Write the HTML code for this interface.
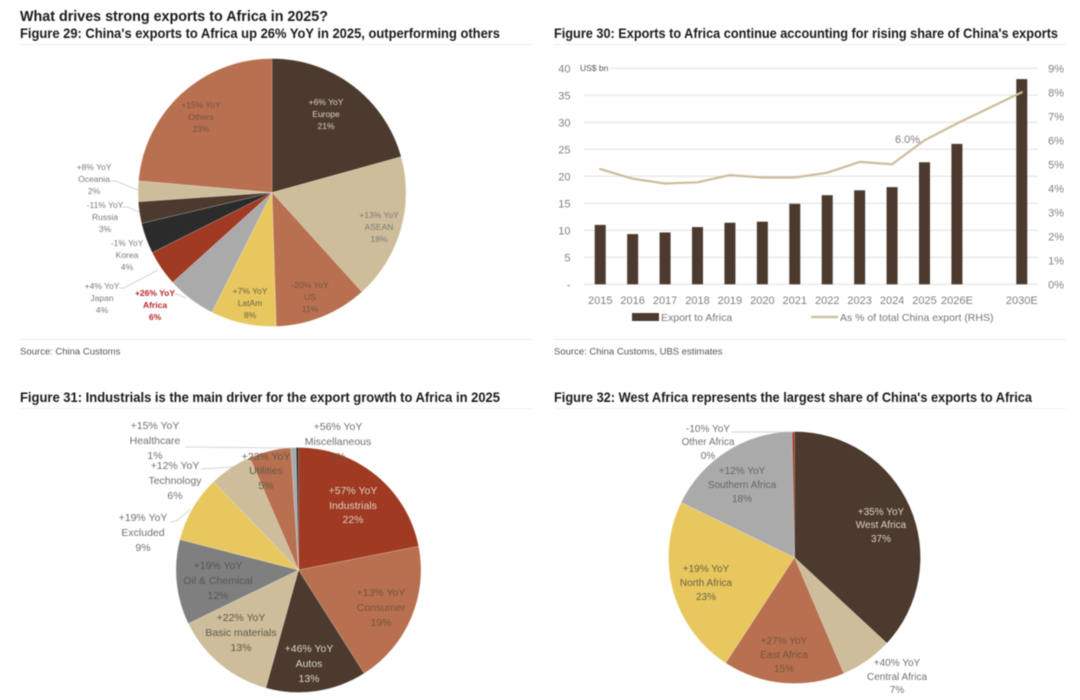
<!DOCTYPE html>
<html lang="en">
<head>
<meta charset="utf-8">
<title>What drives strong exports to Africa in 2025?</title>
<style>
  html, body { margin: 0; padding: 0; background: #fff; }
  #page { display: block; width: 1080px; height: 700px; filter: blur(0.45px); }
  text { font-family: "Liberation Sans", sans-serif; }
  .title { font-size: 14.5px; font-weight: bold; fill: #1a1a1a; }
  .fig { font-size: 13.5px; font-weight: bold; fill: #1a1a1a; }
  .src { font-size: 9.5px; fill: #555; }
  .tick { font-size: 11px; fill: #808080; }
  .leg { font-size: 10.5px; fill: #777; }
  .sm { font-size: 8.5px; text-anchor: middle; fill: #7a7a7a; }
  .md { font-size: 10.5px; text-anchor: middle; fill: #707070; }
  .mc { font-size: 10px; text-anchor: middle; fill: #707070; }
  .lt { fill: #ddd4c7; }
  .on { fill: #74533f; }
  .on2 { fill: #5f5a48; }
  .red { fill: #b5252a; font-weight: bold; }
  .ld { stroke: #c9c9c9; stroke-width: 0.8; fill: none; }
</style>
</head>
<body>
<svg id="page" xmlns="http://www.w3.org/2000/svg" width="1080" height="700" viewBox="0 0 1080 700">
  <rect width="1080" height="700" fill="#fff"/>

  <text class="title" x="20" y="21" textLength="308" lengthAdjust="spacingAndGlyphs">What drives strong exports to Africa in 2025?</text>
  <text class="fig" x="20" y="38" textLength="480" lengthAdjust="spacingAndGlyphs">Figure 29: China's exports to Africa up 26% YoY in 2025, outperforming others</text>
  <text class="fig" x="554" y="38" textLength="504" lengthAdjust="spacingAndGlyphs">Figure 30: Exports to Africa continue accounting for rising share of China's exports</text>
  <text class="fig" x="20" y="402" textLength="480" lengthAdjust="spacingAndGlyphs">Figure 31: Industrials is the main driver for the export growth to Africa in 2025</text>
  <text class="fig" x="554" y="402" textLength="478" lengthAdjust="spacingAndGlyphs">Figure 32: West Africa represents the largest share of China's exports to Africa</text>

  <line x1="20" y1="44.5" x2="532" y2="44.5" stroke="#ececec"/>
  <line x1="554" y1="44.5" x2="1066" y2="44.5" stroke="#ececec"/>
  <line x1="20" y1="339.5" x2="532" y2="339.5" stroke="#ececec"/>
  <line x1="554" y1="339.5" x2="1066" y2="339.5" stroke="#ececec"/>
  <line x1="20" y1="408.5" x2="532" y2="408.5" stroke="#f0f0f0"/>
  <line x1="554" y1="408.5" x2="1066" y2="408.5" stroke="#f0f0f0"/>

  <text class="src" x="20" y="354.5">Source: China Customs</text>
  <text class="src" x="554" y="354.5">Source: China Customs, UBS estimates</text>

  <g id="pie29"></g>
  <g id="pie31"></g>
  <g id="pie32"></g>
  <g id="combo"></g>

  <!-- Figure 29 labels -->
  <g>
    <polyline class="ld" points="110,181 116,181 138,190"/>
    <polyline class="ld" points="122,207 128,207 139,212"/>
    <polyline class="ld" points="119,288 124,288 158,270"/>
    <polyline class="ld" points="175,293 179,295 186,298"/>
  </g>
  <text class="sm lt"><tspan x="326" y="105">+6% YoY</tspan><tspan x="326" y="117">Europe</tspan><tspan x="326" y="129">21%</tspan></text>
  <text class="sm on"><tspan x="201" y="108">+15% YoY</tspan><tspan x="201" y="120">Others</tspan><tspan x="201" y="132">23%</tspan></text>
  <text class="sm"><tspan x="379" y="218">+13% YoY</tspan><tspan x="379" y="230">ASEAN</tspan><tspan x="379" y="242">18%</tspan></text>
  <text class="sm on"><tspan x="310" y="288">-20% YoY</tspan><tspan x="310" y="300">US</tspan><tspan x="310" y="312">11%</tspan></text>
  <text class="sm" style="fill:#6b6344"><tspan x="250" y="294">+7% YoY</tspan><tspan x="250" y="306">LatAm</tspan><tspan x="250" y="318">8%</tspan></text>
  <text class="sm red"><tspan x="155" y="296">+26% YoY</tspan><tspan x="155" y="308">Africa</tspan><tspan x="155" y="320">6%</tspan></text>
  <text class="sm"><tspan x="102" y="289">+4% YoY</tspan><tspan x="102" y="301">Japan</tspan><tspan x="102" y="313">4%</tspan></text>
  <text class="sm"><tspan x="127" y="246">-1% YoY</tspan><tspan x="127" y="258">Korea</tspan><tspan x="127" y="270">4%</tspan></text>
  <text class="sm"><tspan x="105" y="208">-11% YoY</tspan><tspan x="105" y="220">Russia</tspan><tspan x="105" y="232">3%</tspan></text>
  <text class="sm"><tspan x="94" y="170">+8% YoY</tspan><tspan x="94" y="182">Oceania</tspan><tspan x="94" y="194">2%</tspan></text>

  <!-- Figure 31 labels -->
  <g>
    <polyline class="ld" points="185,447 293,448"/>
    <polyline class="ld" points="201,469 233,467"/>
    <polyline class="ld" points="170,522 176,521 191,509"/>
  </g>
  <text class="md"><tspan x="155" y="429">+15% YoY</tspan><tspan x="155" y="444">Healthcare</tspan><tspan x="155" y="459">1%</tspan></text>
  <text class="md"><tspan x="338" y="430">+56% YoY</tspan><tspan x="338" y="445">Miscellaneous</tspan><tspan x="338" y="460" class="on">0%</tspan></text>
  <text class="md on2"><tspan x="266" y="460">+23% YoY</tspan><tspan x="266" y="474">Utilities</tspan><tspan x="266" y="489">5%</tspan></text>
  <text class="md"><tspan x="175" y="469">+12% YoY</tspan><tspan x="175" y="484">Technology</tspan><tspan x="175" y="499">6%</tspan></text>
  <text class="md"><tspan x="143" y="521">+19% YoY</tspan><tspan x="143" y="536">Excluded</tspan><tspan x="143" y="551">9%</tspan></text>
  <text class="md lt"><tspan x="353" y="494">+57% YoY</tspan><tspan x="353" y="509">Industrials</tspan><tspan x="353" y="523">22%</tspan></text>
  <text class="md on"><tspan x="381" y="596">+13% YoY</tspan><tspan x="381" y="611">Consumer</tspan><tspan x="381" y="626">19%</tspan></text>
  <text class="md lt"><tspan x="309" y="652">+46% YoY</tspan><tspan x="309" y="667">Autos</tspan><tspan x="309" y="682">13%</tspan></text>
  <text class="md on2"><tspan x="241" y="621">+22% YoY</tspan><tspan x="241" y="636">Basic materials</tspan><tspan x="241" y="651">13%</tspan></text>
  <text class="md" style="fill:#555"><tspan x="218" y="569">+19% YoY</tspan><tspan x="218" y="584">Oil &amp; Chemical</tspan><tspan x="218" y="599">12%</tspan></text>

  <!-- Figure 32 labels -->
  <polyline class="ld" points="731,432 794,432"/>
  <text class="mc"><tspan x="708" y="432">-10% YoY</tspan><tspan x="708" y="445">Other Africa</tspan><tspan x="708" y="459">0%</tspan></text>
  <text class="mc" style="fill:#666"><tspan x="742" y="474">+12% YoY</tspan><tspan x="742" y="488">Southern Africa</tspan><tspan x="742" y="502">18%</tspan></text>
  <text class="mc lt"><tspan x="881" y="515">+35% YoY</tspan><tspan x="881" y="528">West Africa</tspan><tspan x="881" y="542">37%</tspan></text>
  <text class="mc" style="fill:#6b6344"><tspan x="706" y="572">+19% YoY</tspan><tspan x="706" y="586">North Africa</tspan><tspan x="706" y="600">23%</tspan></text>
  <text class="mc on"><tspan x="784" y="644">+27% YoY</tspan><tspan x="784" y="658">East Africa</tspan><tspan x="784" y="672">15%</tspan></text>
  <text class="mc"><tspan x="897" y="666">+40% YoY</tspan><tspan x="897" y="680">Central Africa</tspan><tspan x="897" y="693">7%</tspan></text>

<script>
// Figure 29
var regionNames = ['europe', 'asean', 'us', 'latam', 'africa', 'japan', 'korea', 'russia', 'oceania', 'others'];
var regionShares = [20.7, 17.6, 11.2, 7.9, 5.9, 4.3, 3.7, 2.6, 2.5, 23.6];
var regionColors = ['#4b3a2d', '#cdbd9a', '#b87050', '#e8c75f', '#aaaaaa', '#a03a22', '#2b2b2b', '#4b3a2d', '#cdbd9a', '#b87050'];

// Figure 31
var sectorNames = ['industrials', 'consumer', 'autos', 'basic-materials', 'oil-chemical', 'excluded', 'technology', 'utilities', 'healthcare', 'miscellaneous'];
var sectorShares = [21.9, 19.1, 13.3, 13.5, 11.2, 8.8, 5.7, 5.5, 0.7, 0.3];
var sectorColors = ['#a03a22', '#b87050', '#4b3a2d', '#cdbd9a', '#7f7f7f', '#e8c75f', '#cdbd9a', '#b87050', '#aaaaaa', '#2b2b2b'];

// Figure 32
var subregionNames = ['west-africa', 'central-africa', 'east-africa', 'north-africa', 'southern-africa', 'other-africa'];
var subregionShares = [36.9, 6.7, 15.6, 23.0, 17.5, 0.3];
var subregionColors = ['#4b3a2d', '#cdbd9a', '#b87050', '#e8c75f', '#aaaaaa', '#a03a22'];

// Figure 30
var years = ['2015', '2016', '2017', '2018', '2019', '2020', '2021', '2022', '2023', '2024', '2025', '2026E', '', '2030E'];
var exportValues = [11, 9.3, 9.6, 10.6, 11.4, 11.6, 14.9, 16.5, 17.4, 18, 22.6, 26, null, 38];
var shareValues = [4.8, 4.4, 4.2, 4.25, 4.55, 4.45, 4.45, 4.65, 5.1, 5.0, 6.0, 6.7, null, 8.0];
var leftTicks = [0, 5, 10, 15, 20, 25, 30, 35, 40];
var leftTickLabels = ['-', '5', '10', '15', '20', '25', '30', '35', '40'];
var rightTicks = [0, 1, 2, 3, 4, 5, 6, 7, 8, 9];
var rightTickLabels = ['0%', '1%', '2%', '3%', '4%', '5%', '6%', '7%', '8%', '9%'];

var NS = 'http://www.w3.org/2000/svg';

function drawPie(groupId, names, shares, colors, cx, cy, r) {
  var group = document.getElementById(groupId);
  var total = shares.reduce(function (a, b) { return a + b; }, 0);
  var running = 0;
  for (var i = 0; i < shares.length; i++) {
    var a0 = running / total * 2 * Math.PI;
    running += shares[i];
    var a1 = running / total * 2 * Math.PI;
    var x0 = cx + r * Math.sin(a0), y0 = cy - r * Math.cos(a0);
    var x1 = cx + r * Math.sin(a1), y1 = cy - r * Math.cos(a1);
    var large = a1 - a0 > Math.PI ? 1 : 0;
    var p = document.createElementNS(NS, 'path');
    p.setAttribute('d', 'M' + cx + ' ' + cy + 'L' + x0 + ' ' + y0 + 'A' + r + ' ' + r + ' 0 ' + large + ' 1 ' + x1 + ' ' + y1 + 'Z');
    p.setAttribute('fill', colors[i]);
    p.setAttribute('stroke', '#fff');
    p.setAttribute('stroke-width', '0.2');
    
    
    group.appendChild(p);
  }
}

drawPie('pie29', regionNames, regionShares, regionColors, 272, 192.5, 134);
drawPie('pie31', sectorNames, sectorShares, sectorColors, 298.5, 570, 122.5);
drawPie('pie32', subregionNames, subregionShares, subregionColors, 794.5, 557.5, 126);

(function () {
  var combo = document.getElementById('combo');
  var plotLeft = 584, plotRight = 1038, plotTop = 68.3, plotBottom = 284.3;
  var step = (plotRight - plotLeft) / years.length;
  var barWidth = 11;
  function xPos(i) { return plotLeft + step * (i + 0.5); }
  function yLeft(v) { return plotBottom - v / 40 * (plotBottom - plotTop); }
  function yRight(v) { return plotBottom - v / 9 * (plotBottom - plotTop); }

  leftTicks.forEach(function (t, i) {
    var g = document.createElementNS(NS, 'line');
    g.setAttribute('x1', plotLeft);
    g.setAttribute('x2', plotRight);
    g.setAttribute('y1', yLeft(t));
    g.setAttribute('y2', yLeft(t));
    g.setAttribute('stroke', '#e0e0e0');
    g.setAttribute('stroke-width', '1');
    
    
    combo.appendChild(g);
    var lab = document.createElementNS(NS, 'text');
    lab.setAttribute('class', 'tick');
    lab.setAttribute('x', 570.5);
    lab.setAttribute('y', yLeft(t) + 4);
    lab.setAttribute('text-anchor', 'end');
    
    
    lab.textContent = leftTickLabels[i];
    combo.appendChild(lab);
  });

  rightTicks.forEach(function (t, i) {
    var lab = document.createElementNS(NS, 'text');
    lab.setAttribute('class', 'tick');
    lab.setAttribute('x', 1064);
    lab.setAttribute('y', yRight(t) + 4);
    lab.setAttribute('text-anchor', 'end');
    
    
    lab.textContent = rightTickLabels[i];
    combo.appendChild(lab);
  });

  exportValues.forEach(function (v, i) {
    if (v === null) return;
    var b = document.createElementNS(NS, 'rect');
    b.setAttribute('x', xPos(i) - barWidth / 2);
    b.setAttribute('y', yLeft(v));
    b.setAttribute('width', barWidth);
    b.setAttribute('height', plotBottom - yLeft(v));
    b.setAttribute('fill', '#4b3a2d');
    
    
    combo.appendChild(b);
  });

  years.forEach(function (y, i) {
    if (!y) return;
    var lab = document.createElementNS(NS, 'text');
    lab.setAttribute('class', 'tick');
    lab.setAttribute('x', xPos(i));
    lab.setAttribute('y', 304);
    lab.setAttribute('text-anchor', 'middle');
    
    
    lab.textContent = y;
    combo.appendChild(lab);
  });

  var pts = [];
  shareValues.forEach(function (v, i) {
    if (v !== null) pts.push(xPos(i) + ',' + yRight(v));
  });
  var line = document.createElementNS(NS, 'polyline');
  line.setAttribute('points', pts.join(' '));
  line.setAttribute('fill', 'none');
  line.setAttribute('stroke', '#cdbd9a');
  line.setAttribute('stroke-width', '2.2');
  line.setAttribute('stroke-linejoin', 'round');
  line.setAttribute('stroke-linecap', 'round');
  
  
  combo.appendChild(line);

  var mask = document.createElementNS(NS, 'rect');
  mask.setAttribute('x', 578);
  mask.setAttribute('y', 61);
  mask.setAttribute('width', 32);
  mask.setAttribute('height', 12);
  mask.setAttribute('fill', '#fff');
  
  
  combo.appendChild(mask);

  var unit = document.createElementNS(NS, 'text');
  unit.setAttribute('x', 580);
  unit.setAttribute('y', 71);
  unit.setAttribute('font-size', '8.5');
  unit.setAttribute('fill', '#555');
  
  
  unit.textContent = 'US$ bn';
  combo.appendChild(unit);

  var callout = document.createElementNS(NS, 'text');
  callout.setAttribute('class', 'tick');
  callout.setAttribute('x', 895);
  callout.setAttribute('y', 143);
  
  
  callout.textContent = shareValues[10].toFixed(1) + '%';
  combo.appendChild(callout);

  var sw1 = document.createElementNS(NS, 'rect');
  sw1.setAttribute('x', 632);
  sw1.setAttribute('y', 313);
  sw1.setAttribute('width', 27);
  sw1.setAttribute('height', 8);
  sw1.setAttribute('fill', '#4b3a2d');
  
  
  combo.appendChild(sw1);

  var lt1 = document.createElementNS(NS, 'text');
  lt1.setAttribute('class', 'leg');
  lt1.setAttribute('x', 661);
  lt1.setAttribute('y', 321);
  
  
  lt1.textContent = 'Export to Africa';
  combo.appendChild(lt1);

  var sw2 = document.createElementNS(NS, 'line');
  sw2.setAttribute('x1', 811);
  sw2.setAttribute('x2', 838);
  sw2.setAttribute('y1', 317);
  sw2.setAttribute('y2', 317);
  sw2.setAttribute('stroke', '#cdbd9a');
  sw2.setAttribute('stroke-width', '2.2');
  
  
  combo.appendChild(sw2);

  var lt2 = document.createElementNS(NS, 'text');
  lt2.setAttribute('class', 'leg');
  lt2.setAttribute('x', 840);
  lt2.setAttribute('y', 321);
  
  
  lt2.textContent = 'As % of total China export (RHS)';
  combo.appendChild(lt2);
})();
</script>
</svg>
</body>
</html>
